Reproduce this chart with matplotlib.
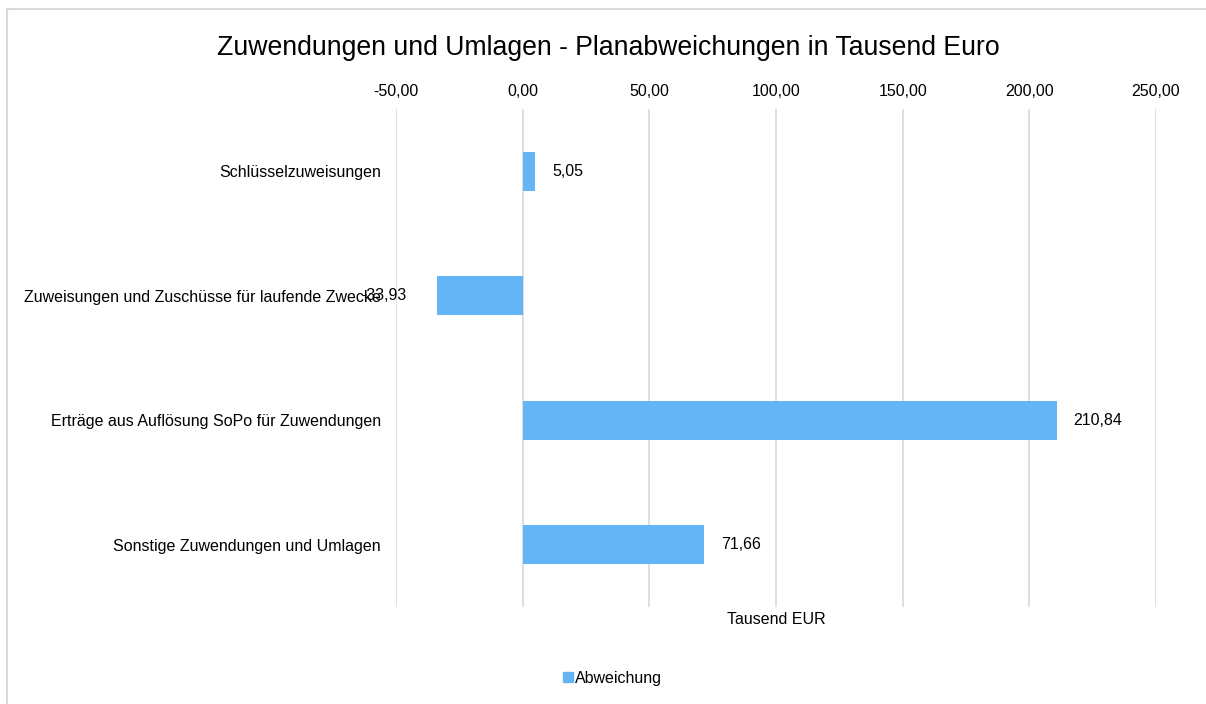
import matplotlib
matplotlib.use("Agg")
import matplotlib.pyplot as plt
from matplotlib.patches import Rectangle

plt.rcParams['font.family'] = ['Liberation Sans', 'DejaVu Sans']

categories = ["Schlüsselzuweisungen",
              "Zuweisungen und Zuschüsse für laufende Zwecke",
              "Erträge aus Auflösung SoPo für Zuwendungen",
              "Sonstige Zuwendungen und Umlagen"]
values = [5.05, -33.93, 210.84, 71.66]
ticks = [-50, 0, 50, 100, 150, 200, 250]
tick_labels = ["-50,00", "0,00", "50,00", "100,00", "150,00", "200,00", "250,00"]
series_name = "Abweichung"
title = "Zuwendungen und Umlagen - Planabweichungen in Tausend Euro"
xlabel = "Tausend EUR"

W, H = 1206, 704
FS = 11.5
fig = plt.figure(figsize=(W / 100, H / 100), dpi=100)

# outer frame
fig.patches.append(Rectangle((7 / W, -0.1), 1.2, (H - 9) / H + 0.1, transform=fig.transFigure,
                             fill=False, edgecolor="#d9d9d9", linewidth=1.5))

ax = fig.add_axes([396 / W, 1 - 607 / H, (1156 - 396) / W, (607 - 109) / H])
color = "#64B5F6"
ypos = list(range(len(categories)))
ax.barh(ypos, values, height=0.315, color=color, zorder=3)
ax.set_ylim(len(categories) - 0.5, -0.5)
ax.set_xlim(-50, 250)
ax.set_yticks(ypos)
ax.set_yticklabels(categories, fontsize=FS)
ax.set_xticks(ticks)
ax.set_xticklabels(tick_labels, fontsize=FS)
ax.xaxis.tick_top()
ax.tick_params(axis='both', length=0)
ax.tick_params(axis='x', pad=7.5)
ax.tick_params(axis='y', pad=11)
ax.grid(axis='x', color="#d9d9d9", linewidth=1.2, zorder=0)
for s in ax.spines.values():
    s.set_visible(False)

for y, v in zip(ypos, values):
    lab = f"{v:.2f}".replace(".", ",")
    if v >= 0:
        ax.annotate(lab, (v, y), xytext=(12, 0), textcoords="offset points",
                    ha="left", va="center", fontsize=FS)
    else:
        ax.annotate(lab, (v, y), xytext=(-22, 0), textcoords="offset points",
                    ha="right", va="center", fontsize=FS)

fig.text((396 + 1156) / 2 / W, 1 - 620 / H, xlabel, ha="center", va="center", fontsize=FS)
fig.text(608 / W, 1 - 48 / H, title, ha="center", va="center", fontsize=19.2)

# legend
fig.legend([Rectangle((0, 0), 1, 1, color=color)], [series_name],
           loc="center", bbox_to_anchor=(612 / W, 1 - 678 / H), frameon=False,
           fontsize=FS, handlelength=0.65, handleheight=0.65, handletextpad=0.1)

fig.savefig("out.png", dpi=100, facecolor="white")
